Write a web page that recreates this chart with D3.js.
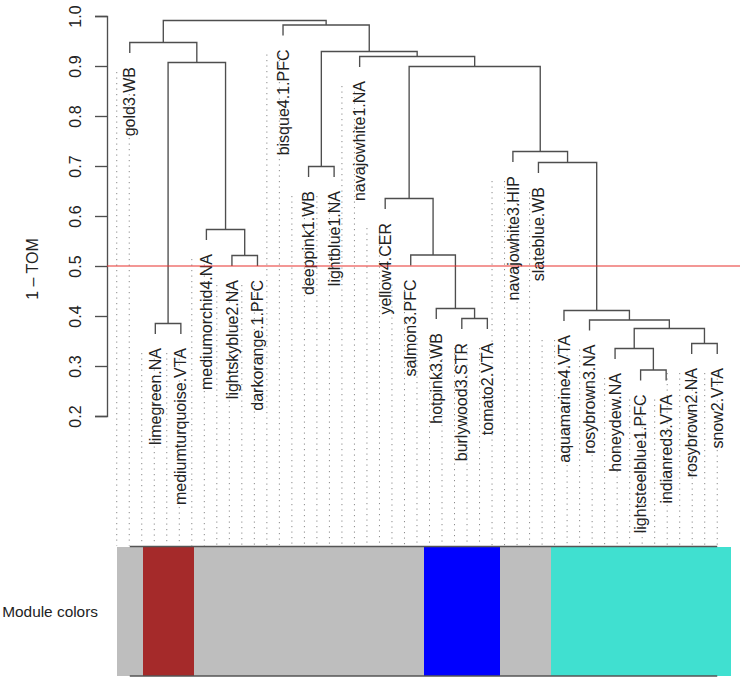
<!DOCTYPE html>
<html>
<head>
<meta charset="utf-8">
<script src="https://cdn.jsdelivr.net/npm/d3@7"></script>
<style>
  html, body { margin: 0; padding: 0; background: #fff; }
  svg { display: block; font-family: "Liberation Sans", Arial, sans-serif; }
</style>
</head>
<body>
<svg id="chart" width="745" height="681"></svg>
<script>
// ---- data ----
const leafLabels = [
  "gold3.WB", "limegreen.NA", "mediumturquoise.VTA", "mediumorchid4.NA",
  "lightskyblue2.NA", "darkorange.1.PFC", "bisque4.1.PFC", "deeppink1.WB",
  "lightblue1.NA", "navajowhite1.NA", "yellow4.CER", "salmon3.PFC",
  "hotpink3.WB", "burlywood3.STR", "tomato2.VTA", "navajowhite3.HIP",
  "slateblue.WB", "aquamarine4.VTA", "rosybrown3.NA", "honeydew.NA",
  "lightsteelblue1.PFC", "indianred3.VTA", "rosybrown2.NA", "snow2.VTA"
];
const leafModules = [
  "grey", "brown", "brown", "grey", "grey", "grey", "grey", "grey",
  "grey", "grey", "grey", "grey", "blue", "blue", "blue", "grey",
  "grey", "turquoise", "turquoise", "turquoise", "turquoise", "turquoise", "turquoise", "turquoise"
];
// hclust-style merges: negative = leaf (1-based, display order), positive = earlier merge (1-based)
const mergeLeft  = [-21, -20, -23, 2, -2, -19, -14, -18, -13, -5, -12, -4, -11, -8, -17, -16, 13, 5, -10, 14, -1, -7, 21];
const mergeRight = [-22,   1, -24, 3, -3,   4, -15,   6,   7, -6,   9, 10,  11, -9,   8,  15, 16, 12, 17, 19, 18, 20, 22];
const mergeHeights = [0.292, 0.335, 0.345, 0.375, 0.385, 0.392, 0.395, 0.411, 0.415, 0.521, 0.522,
  0.573, 0.635, 0.699, 0.707, 0.729, 0.899, 0.907, 0.919, 0.929, 0.947, 0.982, 0.991];
const yTicks = [0.2, 0.3, 0.4, 0.5, 0.6, 0.7, 0.8, 0.9, 1.0];
const cutHeight = 0.5;
const moduleColorMap = { grey: "#BEBEBE", brown: "#A52A2A", blue: "#0000FF", turquoise: "#40E0D0" };
const hangFrac = 0.03;     // leaf hang, fraction of height range
const guideOffset = 0.059; // guide line hang (height units)
const guideCount = 49;

// ---- layout ----
const svg = d3.select("#chart");
const xBand = d3.scaleBand().domain(d3.range(1, leafLabels.length + 1)).range([117, 730]).padding(0);
const leafX = i => xBand(i) + xBand.bandwidth() / 2;
const y = d3.scaleLinear().domain([0.2, 1.0]).range([416, 16]);
const barTop = 546.5, barBottom = 676;
const lineCol = "#4e4e4e";
const textCol = "#222";

const hang = hangFrac * (d3.max(mergeHeights) - d3.min(mergeHeights));

// node x positions
const nodeX = [];
const objHeights = new Array(leafLabels.length + 1).fill(0);
function childX(c) { return c < 0 ? leafX(-c) : nodeX[c - 1]; }
mergeHeights.forEach((h, k) => {
  const a = mergeLeft[k], b = mergeRight[k];
  nodeX[k] = (childX(a) + childX(b)) / 2;
  if (a < 0) objHeights[-a] = h;
  if (b < 0) objHeights[-b] = h;
});

// ---- guide lines (WGCNA addGuideLines behaviour) ----
const n = leafLabels.length;
const positions = d3.range(1, guideCount + 1).map(j => j * n / guideCount);
const floorH = positions.map(p => Math.floor(p)).filter(v => v > 0).map(v => objHeights[v]);
const ceilH = positions.map(p => Math.ceil(p)).map(v => objHeights[v]);
const posHeights = positions.map((p, j) => Math.min(floorH[j % floorH.length], ceilH[j]) - guideOffset);
const guideX = p => leafX(1) + (p - 1) * xBand.bandwidth();

svg.append("g").selectAll("line").data(positions).join("line")
  .attr("x1", p => guideX(p)).attr("x2", p => guideX(p))
  .attr("y1", (p, j) => y(posHeights[j])).attr("y2", barTop - 1)
  .attr("stroke", "#8a8a8a").attr("stroke-width", 1)
  .attr("stroke-dasharray", "1.2 4.3");

// ---- dendrogram ----
const dg = svg.append("g").attr("fill", "none").attr("stroke", lineCol).attr("stroke-width", 1.35);
function childTop(c) { return c < 0 ? objHeights[-c] - hang : mergeHeights[c - 1]; }
mergeHeights.forEach((h, k) => {
  const a = mergeLeft[k], b = mergeRight[k];
  const xa = childX(a), xb = childX(b);
  const path = d3.path();
  path.moveTo(xa, y(childTop(a)));
  path.lineTo(xa, y(h));
  path.lineTo(xb, y(h));
  path.lineTo(xb, y(childTop(b)));
  dg.append("path").attr("d", path.toString());
});

// leaf labels
svg.append("g").selectAll("text").data(leafLabels).join("text")
  .attr("transform", (d, i) => `translate(${leafX(i + 1)},${y(objHeights[i + 1] - hang) + 14}) rotate(-90)`)
  .attr("text-anchor", "end").attr("dy", "0.35em")
  .attr("font-size", 16).attr("fill", textCol)
  .text(d => d);

// ---- y axis ----
const axisG = svg.append("g").attr("transform", "translate(107,0)")
  .call(d3.axisLeft(y).tickValues(yTicks).tickFormat(d3.format(".1f")).tickSize(12).tickPadding(0));
axisG.select(".domain").attr("stroke", lineCol).attr("stroke-width", 1.35);
axisG.selectAll(".tick line").attr("stroke", lineCol).attr("stroke-width", 1.35);
axisG.selectAll(".tick text")
  .attr("x", null).attr("dy", null)
  .attr("transform", "translate(-26,0) rotate(-90)")
  .attr("text-anchor", "middle")
  .attr("font-size", 16).attr("font-family", "Liberation Sans, Arial, sans-serif")
  .attr("fill", textCol);

svg.append("text")
  .attr("transform", "translate(38,269) rotate(-90)")
  .attr("text-anchor", "middle").attr("font-size", 16).attr("fill", textCol)
  .text("1 \u2013 TOM");

// cut line
svg.append("line")
  .attr("x1", 107).attr("x2", 740)
  .attr("y1", y(cutHeight)).attr("y2", y(cutHeight))
  .attr("stroke", "#e8302c").attr("stroke-width", 1.2);

// ---- module colour bar ----
svg.append("g").attr("shape-rendering", "crispEdges")
  .selectAll("rect").data(leafModules).join("rect")
  .attr("x", (d, i) => xBand(i + 1)).attr("width", xBand.bandwidth() + 1)
  .attr("y", barTop).attr("height", barBottom - barTop)
  .attr("fill", d => moduleColorMap[d]);

svg.append("g").selectAll("line").data([barTop, barBottom]).join("line")
  .attr("x1", leafX(1)).attr("x2", leafX(n))
  .attr("y1", d => d).attr("y2", d => d)
  .attr("stroke", "#555").attr("stroke-width", 1.5);

svg.append("text")
  .attr("x", 98).attr("y", (barTop + barBottom) / 2).attr("dy", "0.35em")
  .attr("text-anchor", "end").attr("font-size", 15.4).attr("fill", textCol)
  .text("Module colors");
</script>
</body>
</html>
